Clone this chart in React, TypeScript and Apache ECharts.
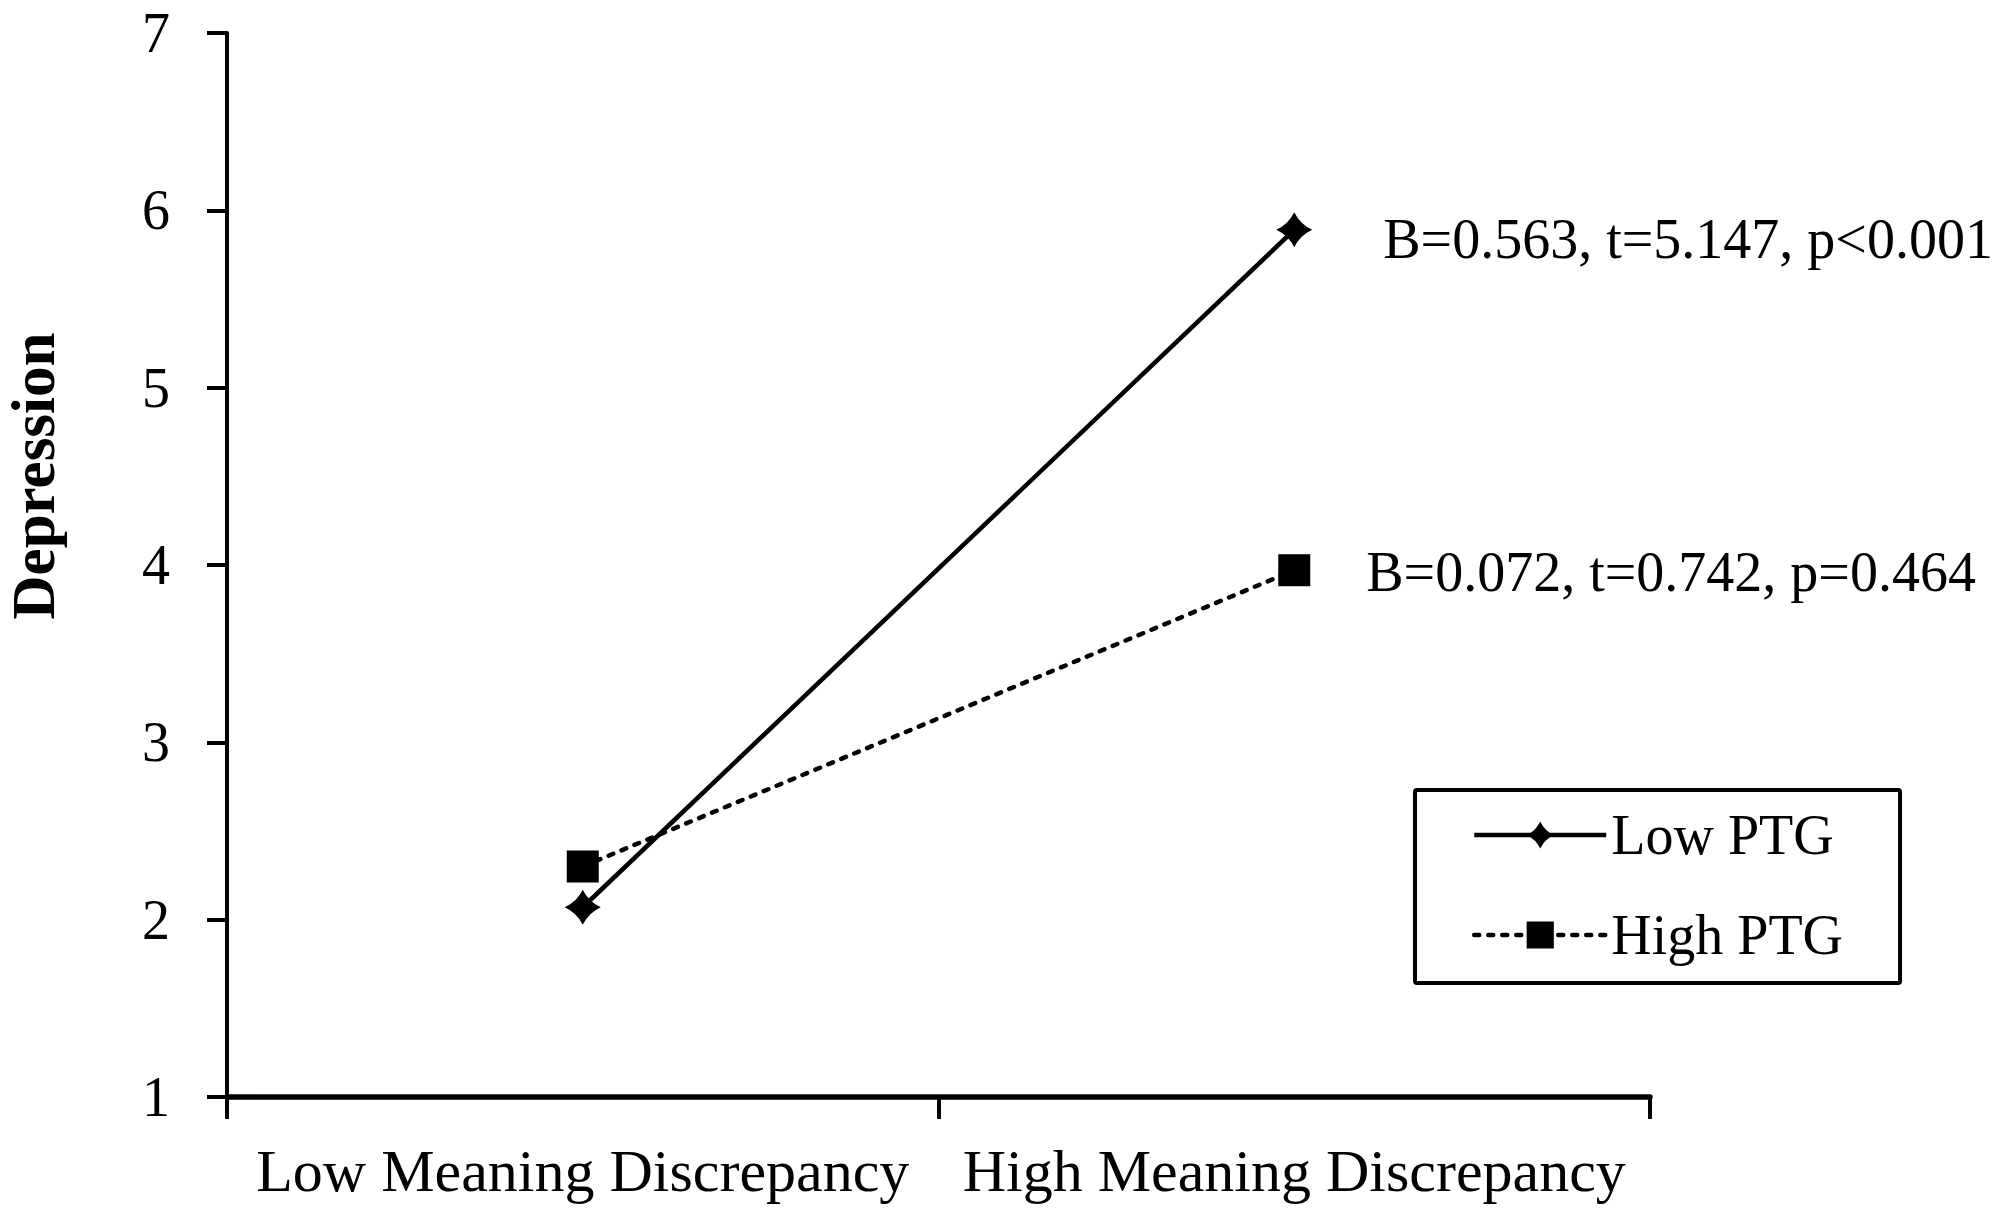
import React, { useEffect, useRef } from "react";
import * as echarts from "echarts";

const categories = ["Low Meaning Discrepancy", "High Meaning Discrepancy"];
const seriesNames = ["Low PTG", "High PTG"];
const lowPTG = [2.07, 5.89];
const highPTG = [2.3, 3.97];
const annotations = ["B=0.563, t=5.147, p<0.001", "B=0.072, t=0.742, p=0.464"];
const yTicks = { min: 1, max: 7, interval: 1 };
const yAxisTitle = "Depression";

const FONT = "'Liberation Serif', 'Times New Roman', serif";
const DIAMOND = "path://M50,0 Q66,34 100,50 Q66,66 50,100 Q34,66 0,50 Q34,34 50,0 Z";

export default function App() {
  const ref = useRef<HTMLDivElement>(null);
  useEffect(() => {
    if (!ref.current) return;
    const chart = echarts.init(ref.current, undefined, { renderer: "svg" });
    const withLabel = (arr: number[], text: string, distance: number, dy: number) =>
      arr.map((v, i) =>
        i === arr.length - 1
          ? {
              value: v,
              label: {
                show: true,
                position: "right",
                distance,
                offset: [0, dy],
                formatter: text,
                fontFamily: FONT,
                fontSize: 56,
                color: "#000",
              },
            }
          : v
      );
    chart.setOption({
      animation: false,
      backgroundColor: "#fff",
      textStyle: { fontFamily: FONT, color: "#000" },
      grid: { left: 227, top: 33, width: 1423, height: 1064, containLabel: false },
      xAxis: {
        type: "category",
        data: categories,
        boundaryGap: true,
        axisLine: { show: true, lineStyle: { color: "#000", width: 5.5 } },
        axisTick: { show: true, length: 22, inside: false, lineStyle: { color: "#000", width: 4 } },
        axisLabel: {
          fontFamily: FONT,
          fontSize: 60,
          color: "#000",
          margin: 44,
          lineHeight: 60,
          interval: 0,
        },
        splitLine: { show: false },
      },
      yAxis: {
        type: "value",
        min: yTicks.min,
        max: yTicks.max,
        interval: yTicks.interval,
        axisLine: { show: true, lineStyle: { color: "#000", width: 4 } },
        axisTick: { show: true, length: 20, inside: false, lineStyle: { color: "#000", width: 4 } },
        axisLabel: { fontFamily: FONT, fontSize: 56, color: "#000", margin: 57 },
        splitLine: { show: false },
      },
      legend: {
        orient: "vertical",
        left: 1415,
        top: 790,
        padding: [17, 57, 20, 57],
        itemGap: 44,
        itemWidth: 132,
        itemHeight: 34,
        itemTextGap: 14,
        borderColor: "#000",
        borderWidth: 4,
        borderRadius: 2,
        backgroundColor: "#fff",
        lineStyle: { width: 4.5 },
        textStyle: { fontFamily: FONT, fontSize: 56, color: "#000", lineHeight: 56 },
        data: seriesNames,
      },
      graphic: [
        {
          type: "text",
          x: 33,
          y: 476,
          rotation: Math.PI / 2,
          style: {
            text: yAxisTitle,
            fontFamily: FONT,
            fontWeight: "bold",
            fontSize: 61,
            fill: "#000",
            align: "center",
            verticalAlign: "middle",
          },
        },
      ],
      series: [
        {
          name: seriesNames[0],
          type: "line",
          data: withLabel(lowPTG, annotations[0], 71, 9),
          symbol: DIAMOND,
          symbolSize: [36, 35],
          showAllSymbol: true,
          lineStyle: { color: "#000", width: 4.5, type: "solid" },
          itemStyle: { color: "#000" },
          z: 3,
        },
        {
          name: seriesNames[1],
          type: "line",
          data: withLabel(highPTG, annotations[1], 56, 2),
          symbol: "rect",
          symbolSize: 32,
          showAllSymbol: true,
          lineStyle: { color: "#000", width: 4.5, type: [5, 9], cap: "round" },
          itemStyle: { color: "#000" },
          z: 2,
        },
      ],
    });
    return () => chart.dispose();
  }, []);
  return (
    <div
      ref={ref}
      style={{ position: "fixed", left: 0, top: 0, width: 1992, height: 1208, background: "#fff" }}
    />
  );
}
